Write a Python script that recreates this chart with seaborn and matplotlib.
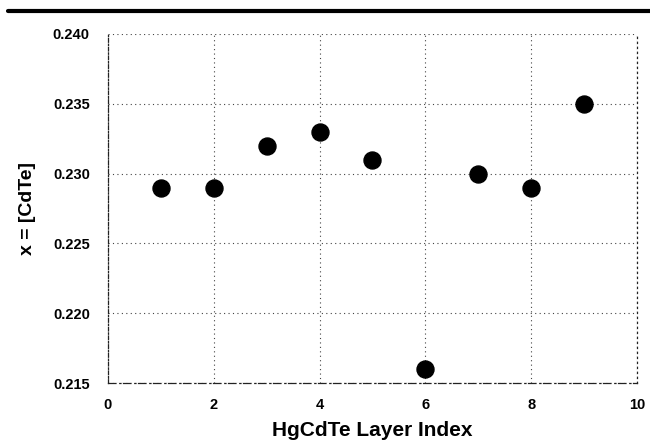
import matplotlib
matplotlib.use("Agg")
import matplotlib.pyplot as plt
import seaborn as sns
import pandas as pd
from matplotlib.lines import Line2D

layer_index = [1, 2, 3, 4, 5, 6, 7, 8, 9]
x_cdte = [0.229, 0.229, 0.232, 0.233, 0.231, 0.216, 0.230, 0.229, 0.235]
x_ticks = [0, 2, 4, 6, 8, 10]
y_ticks = [0.215, 0.220, 0.225, 0.230, 0.235, 0.240]

df = pd.DataFrame({"layer": layer_index, "x": x_cdte})

sns.set_theme(style="white")
plt.rcParams['font.family'] = ['Liberation Sans', 'DejaVu Sans']

fig = plt.figure(figsize=(6.5, 4.45), dpi=100)
ax = fig.add_axes([0.166, 0.139, 0.814, 0.785])

sns.scatterplot(data=df, x="layer", y="x", ax=ax, s=150, color="black",
                edgecolor="black", zorder=3, legend=False)

ax.set_xlim(0, 10)
ax.set_ylim(0.215, 0.240)
ax.set_xticks(x_ticks)
ax.set_xticklabels([str(t) for t in x_ticks], fontweight="bold", fontsize=10.5, color="black")
ax.set_yticks(y_ticks)
ax.set_yticklabels([f"{t:.3f}" for t in y_ticks], fontweight="bold", fontsize=10.5, color="black")
ax.tick_params(axis="y", length=0, pad=13)
ax.tick_params(axis="x", length=0, pad=11)
ax.grid(True, linestyle=(0, (1, 3)), color="#444444", linewidth=0.8)
ax.spines["top"].set_visible(False)
ax.spines["right"].set_linestyle((0, (1, 3)))
ax.spines["left"].set_linestyle((0, (3, 1.5, 1, 1.5)))
ax.spines["bottom"].set_linestyle((0, (6, 3, 1, 2)))
for name in ["left", "right", "bottom"]:
    ax.spines[name].set_linewidth(0.9)
    ax.spines[name].set_color("#222222")

ax.set_xlabel("HgCdTe Layer Index", fontweight="bold", fontsize=15, labelpad=6, color="black")
ax.set_ylabel("x = [CdTe]", fontweight="bold", fontsize=14, labelpad=12, color="black")

fig.add_artist(Line2D([0.012, 1.0], [0.975, 0.975], color="black", linewidth=3,
                      transform=fig.transFigure))

fig.savefig("out.png", dpi=100, facecolor="white")
